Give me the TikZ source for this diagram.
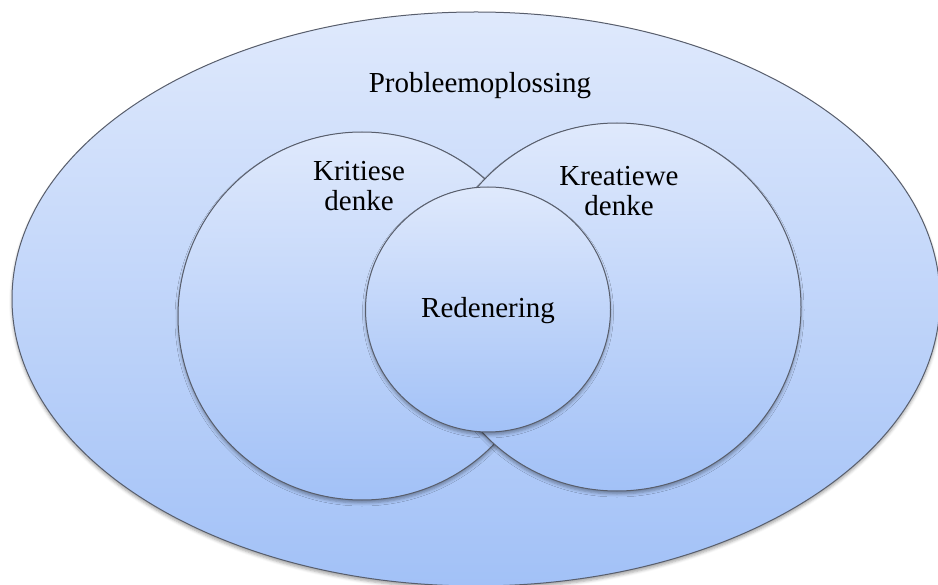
\documentclass[tikz,border=0pt]{standalone}
\usepackage{fontspec}
\setmainfont{Liberation Serif}
\usetikzlibrary{shadows.blur}
\definecolor{fillTop}{RGB}{223,233,252}
\definecolor{fillBottom}{RGB}{162,193,247}
\definecolor{edge}{RGB}{88,94,108}
\tikzset{
  bubble/.style={draw=edge, line width=1pt, top color=fillTop, bottom color=fillBottom,
    blur shadow={shadow xshift=0pt, shadow yshift=-3pt, shadow blur radius=3pt, shadow opacity=35}},
  lbl/.style={font=\fontsize{29}{30}\selectfont, text=black, align=center, inner sep=0pt}
}
\begin{document}
\begin{tikzpicture}[x=1pt, y=-1pt]
  \useasboundingbox (0,0) rectangle (938,585);
  % outer field and the three overlapping skills
  \path[bubble] (476,299) ellipse [x radius=464, y radius=287];
  \path[bubble] (362,316) circle [radius=184];
  \path[bubble] (617,307) circle [radius=184];
  \path[bubble] (488,309.5) circle [radius=122.5];
  % labels (base anchor sits on the last line's baseline)
  \node[lbl, anchor=base] (prob) at (480,93) {Probleemoplossing};
  \node[lbl, anchor=base] (krit) at (359,211) {Kritiese\\denke};
  \node[lbl, anchor=base] (krea) at (619,216) {Kreatiewe\\denke};
  \node[lbl, anchor=base] (rede) at (488,318) {Redenering};
\end{tikzpicture}
\end{document}
